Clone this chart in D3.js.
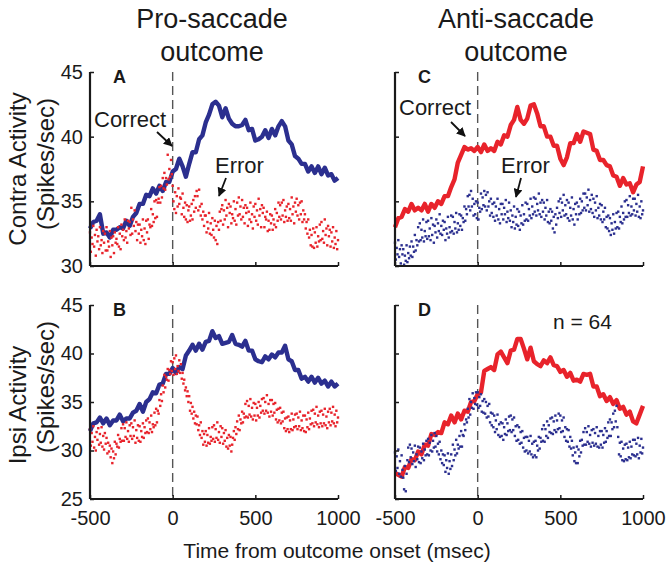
<!DOCTYPE html>
<html><head><meta charset="utf-8">
<script src="https://cdn.jsdelivr.net/npm/d3@7/dist/d3.min.js"></script>
<style>
html,body{margin:0;padding:0;background:#fff;}
svg text{font-family:"Liberation Sans",Arial,Helvetica,sans-serif;fill:#1a1a1a;}
</style></head>
<body>
<svg id="chart" width="672" height="573"></svg>
<script>
// ---------- DATA ----------
const tStart = -500, lineStep = 20, dotStep = 5;
const xTicks = [-500, 0, 500, 1000];
const yTicksTop = [30, 35, 40, 45];
const yTicksBottom = [25, 30, 35, 40, 45];
const columnTitles = [["Pro-saccade", "outcome"], ["Anti-saccade", "outcome"]];
const rowLabels = [["Contra Activity", "(Spikes/sec)"], ["Ipsi Activity", "(Spikes/sec)"]];
const panelLetters = ["A", "C", "B", "D"];

// Panel A: pro-saccade, contra  (solid = correct, blue; dots = error, red)
const proContraCorrect = [32.9,33.4,33.5,34.0,32.5,32.6,32.2,32.8,32.8,33.0, 32.9,33.5,33.1,33.8,34.1,34.8,34.8,35.5,35.4,36.0, 35.6,36.2,35.8,36.5,36.5,37.3,37.5,38.3,37.7,36.9, 37.9,38.8,38.8,39.8,40.1,41.1,41.7,42.5,42.7,42.4, 41.5,42.2,41.4,41.0,40.8,40.8,40.9,41.3,40.5,40.6, 39.7,39.8,40.0,40.5,39.9,40.6,40.1,40.8,41.2,40.8, 39.7,39.4,38.5,38.3,37.9,37.9,37.3,37.7,37.2,37.7, 37.1,37.6,37.0,37.1,36.6,36.8];
const proContraError = [
32.6,31.1,32.2,31.7,33.1,31.5,32.4,30.8,32.8,31.9, 32.3,31.3,33.0,31.6,32.0,31.0,32.7,31.8,32.5,31.2,
33.0,31.2,31.9,31.5,32.7,30.7,32.2,31.6,32.3,31.0, 32.6,31.8,32.1,31.7,33.0,31.5,32.5,31.3,33.2,32.3,
32.8,32.0,33.6,32.2,32.7,31.8,33.5,32.9,33.4,32.4, 34.5,32.5,33.6,33.1,34.3,32.7,33.4,32.0,33.2,32.5,
33.2,31.8,32.8,32.3,33.6,32.0,32.9,31.7,33.5,32.6, 33.6,32.1,33.2,33.0,34.4,33.1,34.0,33.4,35.0,33.7,
35.1,33.8,34.9,35.2,36.1,34.9,36.2,35.3,36.8,36.0, 37.2,35.9,36.8,36.3,38.6,36.7,37.5,36.9,38.2,37.1,
36.2,35.0,34.4,35.7,34.1,35.4,34.6,36.0,34.8,35.3, 35.2,34.0,35.6,34.5,33.8,34.9,33.6,34.7,33.4,34.3,
34.6,33.5,33.9,34.8,33.6,35.1,34.2,35.4,34.5,35.8, 35.4,34.3,35.9,34.6,33.9,34.8,33.6,34.2,33.1,33.9,
33.9,32.6,33.4,32.9,34.1,32.5,33.3,32.4,33.7,32.8, 32.2,33.5,32.0,33.1,31.7,33.4,32.8,34.2,33.5,34.4,
34.7,33.2,34.3,33.6,35.1,33.9,34.5,33.0,34.8,34.1, 34.6,33.3,34.0,33.7,35.0,33.5,34.4,33.2,34.9,33.9,
35.3,34.0,34.6,33.6,35.1,33.8,34.5,33.3,34.7,34.1, 34.5,33.1,34.2,33.6,34.9,33.4,34.0,32.9,34.6,33.8,
34.8,33.5,34.3,33.2,35.2,33.9,34.4,33.0,34.7,34.1, 34.5,33.0,33.8,33.6,34.2,32.7,33.5,32.8,34.0,33.3,
33.9,32.8,33.6,33.2,34.4,33.0,34.1,33.5,34.9,33.8, 34.7,33.6,34.9,33.9,35.1,33.4,34.3,33.8,34.6,33.5,
34.8,33.7,34.4,33.5,35.3,34.0,34.6,33.3,34.9,34.2, 35.2,33.9,34.7,33.6,34.9,34.0,35.0,33.4,34.3,33.6,
34.0,32.9,33.4,32.5,33.6,32.2,32.8,31.6,32.4,31.5, 32.9,31.4,32.6,31.8,33.0,31.5,32.3,31.9,33.2,32.0,
33.4,32.1,32.7,31.8,33.6,32.4,32.9,31.6,33.1,32.3, 32.8,31.5,32.6,31.9,33.0,31.4,32.2,31.7,32.7,31.3,
32.0];

// Panel C: anti-saccade, contra  (solid = correct, red; dots = error, blue)
const antiContraCorrect = [33.0,33.7,33.8,34.4,34.2,34.8,34.3,34.5,34.3,34.8, 34.2,34.8,34.5,35.0,34.8,35.4,35.4,36.1,36.7,38.0, 38.6,39.2,39.0,39.1,38.9,39.2,38.8,39.4,38.9,39.1, 38.9,39.6,39.4,40.1,40.0,40.9,41.3,42.3,41.3,41.0, 41.4,42.4,42.5,41.8,40.8,40.8,40.0,40.0,39.3,39.3, 38.3,37.8,38.4,39.5,39.5,40.2,39.6,40.4,40.3,40.2, 39.0,38.9,38.2,38.2,37.8,37.7,37.0,36.9,36.2,36.8, 36.3,36.4,35.7,36.3,36.5,37.7];
const antiContraError = [
31.8,30.5,31.4,30.9,32.0,30.7,31.3,30.2,31.6,30.9, 31.3,30.1,30.8,30.4,31.6,30.3,31.0,30.6,31.5,30.8,
31.9,30.7,31.5,31.1,32.4,31.2,32.0,31.6,33.0,31.9, 33.3,32.0,32.8,32.2,33.6,31.9,32.7,32.3,33.4,32.1,
33.5,32.3,32.9,32.0,33.7,32.4,33.2,31.8,33.1,32.6, 33.6,32.2,33.3,32.7,34.0,32.5,33.1,32.4,33.5,32.8,
33.4,32.0,32.9,32.5,33.8,32.2,33.0,32.6,33.9,32.7, 33.8,32.5,33.4,32.9,34.1,32.6,33.3,32.8,34.0,33.1,
33.9,32.8,33.7,33.4,34.6,33.5,34.4,34.0,35.4,34.6, 35.5,34.3,35.8,34.6,35.2,33.9,34.8,34.0,35.0,33.7,
34.9,33.6,34.5,34.2,35.6,34.4,35.3,34.7,35.8,34.6, 35.5,34.3,35.7,34.6,35.0,33.9,35.2,34.1,34.8,33.8,
34.9,33.5,34.6,33.9,35.2,33.6,34.4,33.3,34.8,34.0, 34.8,33.6,34.5,34.0,35.1,33.4,34.2,33.7,34.9,33.5,
34.3,33.0,33.9,33.4,34.6,32.9,33.8,33.2,34.4,33.1, 34.2,32.8,33.9,33.3,34.7,33.2,34.0,33.5,34.9,33.6,
34.8,33.5,34.4,33.9,35.2,33.7,34.6,34.0,35.3,34.2, 35.2,33.9,34.8,34.3,35.6,34.0,34.9,33.8,35.1,34.2,
34.9,33.6,34.5,33.9,35.1,33.4,34.2,33.3,34.4,33.5, 34.2,32.9,33.8,32.6,34.0,33.2,34.5,33.7,35.0,34.1,
35.2,33.8,34.9,34.3,35.5,33.9,34.7,34.0,35.1,33.7, 34.9,33.5,34.5,33.9,35.3,33.6,34.4,33.2,34.8,34.0,
34.9,33.6,34.6,34.0,35.2,34.1,35.0,34.3,35.6,34.5, 35.6,34.3,35.3,34.7,35.9,34.2,35.1,34.4,35.5,34.1,
35.2,33.8,34.9,34.3,35.4,33.7,34.5,33.9,34.8,33.6, 34.7,33.4,34.2,33.6,34.5,33.0,33.8,32.9,33.9,32.7,
33.7,32.4,33.3,32.8,34.0,32.5,33.4,32.9,34.1,33.0, 34.2,32.9,33.8,33.4,34.6,33.3,34.1,33.6,35.0,33.8,
35.1,33.8,34.7,34.1,35.4,33.9,34.6,34.0,35.2,34.3, 35.2,33.9,34.8,34.2,35.5,33.8,34.6,33.7,35.0,34.0,
34.3];

// Panel B: pro-saccade, ipsi  (solid = correct, blue; dots = error, red)
const proIpsiCorrect = [32.0,32.8,32.9,33.4,32.8,33.3,32.6,33.1,33.1,33.7, 33.0,33.3,33.3,33.9,34.1,34.8,34.0,35.0,35.3,36.0, 35.9,36.8,36.9,37.9,37.9,38.5,38.0,38.6,38.4,39.8, 40.3,40.9,40.3,41.0,40.4,41.2,41.3,42.3,41.6,41.8, 41.0,41.1,41.2,41.9,41.0,40.9,40.7,41.3,40.3,40.3, 39.4,39.2,39.1,39.7,39.4,39.9,39.6,40.1,40.1,40.8, 39.4,39.2,38.3,38.3,37.4,37.6,37.1,37.6,37.0,37.5, 36.9,37.2,36.6,37.1,36.6,36.9];
const proIpsiError = [
32.2,30.5,31.8,30.9,32.5,30.3,31.4,30.0,31.9,31.1, 32.3,30.6,31.7,30.8,32.4,30.4,31.5,30.1,31.8,30.7,
31.3,29.7,30.8,29.9,30.5,29.3,30.2,28.7,29.9,29.2, 30.9,29.6,30.7,30.4,31.6,30.3,31.2,30.9,32.3,31.0,
32.7,31.0,32.3,31.4,32.9,31.2,32.0,30.9,32.6,31.5, 32.8,31.2,32.4,31.5,33.1,30.8,32.1,31.3,32.6,31.0,
32.5,30.9,32.0,31.4,32.8,31.3,32.4,31.8,33.1,31.9, 33.3,31.8,32.9,32.2,33.6,31.9,32.7,32.4,33.9,32.6,
34.3,32.9,34.1,33.8,35.2,34.6,35.8,35.1,36.7,36.0, 37.8,36.5,37.6,37.3,38.4,37.2,38.3,37.9,39.2,38.2,
39.1,37.8,39.5,38.4,39.8,37.9,38.7,38.2,39.3,38.0, 38.9,37.4,38.0,36.9,37.3,36.2,36.5,35.6,36.1,35.0,
35.6,34.1,34.9,33.8,34.5,33.3,34.0,32.8,33.6,32.7, 33.5,32.1,32.6,31.6,32.9,31.3,32.0,30.6,31.7,30.9,
32.0,30.5,31.6,30.8,32.3,30.7,31.4,31.0,32.4,31.2, 32.6,30.9,32.2,31.3,32.9,31.1,31.9,30.8,32.5,31.4,
32.3,30.7,31.8,31.0,32.1,30.4,31.3,30.2,31.6,30.5, 31.4,29.9,30.6,31.3,32.0,31.1,32.4,31.7,33.0,32.2,
33.6,32.1,33.2,32.8,34.0,32.9,33.8,33.4,34.8,33.5, 35.1,33.4,34.6,33.7,35.3,33.5,34.4,33.2,34.9,33.6,
34.8,33.1,34.4,33.6,35.0,33.4,34.6,33.9,35.3,34.1, 35.4,33.8,35.0,34.1,35.7,33.9,34.8,33.5,35.2,34.0,
35.2,33.6,34.8,33.9,34.9,33.2,34.2,32.9,34.3,33.1, 34.4,32.8,33.9,33.0,34.0,32.3,33.3,32.0,33.4,32.2,
33.5,31.9,33.1,32.2,33.8,32.1,33.2,32.4,33.7,32.5, 33.8,32.2,33.4,32.5,34.0,32.1,33.1,32.3,33.6,32.0,
33.6,31.9,33.2,32.4,33.9,32.2,33.3,32.7,34.1,32.8, 34.2,32.5,33.8,32.9,34.5,32.7,33.6,32.4,34.0,32.8,
34.1,32.5,33.7,32.8,34.3,32.6,33.5,32.3,34.0,32.9, 34.3,32.6,33.9,33.0,34.5,32.8,33.7,32.5,34.1,32.9,
33.4];

// Panel D: anti-saccade, ipsi  (solid = correct, red; dots = error, blue)
const antiIpsiCorrect = [27.7,27.5,27.3,28.3,28.2,29.1,29.0,29.9,29.6,30.6, 30.5,31.7,31.6,31.9,31.8,32.9,32.7,33.6,32.9,33.8, 33.2,34.1,34.0,35.0,35.1,35.8,36.0,38.2,38.4,38.6, 38.3,39.9,40.2,39.6,39.0,40.3,40.4,41.5,41.5,40.5, 39.4,40.6,39.2,38.9,38.7,39.3,39.0,39.6,38.8,38.7, 38.1,38.3,37.6,38.0,37.2,37.3,37.1,37.9,37.8,37.9, 36.6,36.6,35.6,35.8,35.1,35.5,34.8,35.2,34.3,34.5, 33.7,34.0,33.0,32.8,33.7,34.6];
const antiIpsiError = [
29.8,27.9,29.4,28.2,30.1,27.6,28.9,27.3,29.5,28.0, 27.2,26.0,28.4,25.8,27.6,29.0,30.3,28.8,30.6,29.3,
30.2,28.6,29.8,28.9,30.5,28.3,29.6,29.1,30.4,28.8, 30.3,28.7,29.9,29.2,30.7,29.0,30.1,29.5,31.0,29.6,
31.2,29.5,30.8,30.0,31.6,29.9,31.0,30.3,31.8,30.4, 31.5,29.9,30.7,29.6,30.9,29.1,30.0,28.7,29.6,28.5,
29.5,27.8,29.0,28.2,29.7,27.6,28.9,28.1,29.6,28.4, 30.6,29.0,30.1,29.5,31.1,29.7,30.6,30.2,31.5,30.4,
32.0,30.4,31.6,31.5,32.7,32.1,33.2,32.9,34.3,33.4, 35.3,33.7,35.0,34.4,35.9,34.3,35.4,34.8,36.0,34.7,
36.0,34.4,35.5,34.6,35.8,34.0,35.1,33.9,35.3,33.8, 35.0,33.4,34.6,33.5,34.8,32.9,33.9,32.6,33.8,32.4,
33.6,31.9,33.1,32.2,33.7,31.6,32.7,31.4,32.9,31.5, 32.8,31.1,32.4,31.7,33.2,31.6,32.8,32.0,33.5,32.1,
33.6,31.9,33.2,32.1,33.4,31.5,32.5,31.0,32.6,31.1, 32.4,30.7,31.9,30.8,32.0,30.3,31.3,29.9,31.4,30.0,
31.4,29.7,31.0,29.9,31.5,29.6,30.7,29.3,30.9,29.5, 31.0,29.3,30.5,30.0,31.4,30.2,31.3,30.9,32.2,31.0,
32.6,30.9,32.2,31.5,33.0,31.3,32.6,31.9,33.3,31.8, 33.4,31.7,33.0,32.1,33.6,31.9,33.1,32.2,33.8,32.3,
33.6,31.9,33.1,32.0,33.4,31.4,32.4,31.0,32.2,30.9, 32.1,30.4,31.4,30.2,31.0,29.5,30.3,28.9,29.8,28.7,
30.4,28.7,30.1,29.4,31.0,29.8,31.1,30.5,31.9,30.6, 32.3,30.6,31.9,30.9,32.5,30.7,31.6,30.4,32.1,30.8,
32.2,30.5,31.8,30.7,32.4,30.4,31.5,30.3,32.0,30.6, 32.0,30.3,31.6,30.8,32.3,30.9,32.0,31.3,32.9,31.5,
33.2,31.5,32.9,32.2,33.8,32.4,34.1,33.0,34.6,32.4, 31.4,29.6,30.8,29.4,30.9,29.0,30.2,28.9,30.6,29.1,
30.7,29.0,30.3,29.3,30.9,29.2,30.4,29.6,31.1,29.5, 31.1,29.4,30.7,29.6,31.3,29.2,30.5,29.8,31.2,29.7,
30.3];

// ---------- DRAW ----------
const BLUE = "#2b2f8f", RED = "#e8232b";
const svg = d3.select("#chart");

const colX = [[90, 338], [395, 643]];
const rowY = [[266, 72], [499, 305]];
const rowDomain = [[30, 45], [25, 45]];
const rowTicks = [yTicksTop, yTicksBottom];

const panels = [
  {row: 0, col: 0, line: proContraCorrect, lineColor: BLUE, dots: proContraError, dotColor: RED, letter: panelLetters[0]},
  {row: 0, col: 1, line: antiContraCorrect, lineColor: RED, dots: antiContraError, dotColor: BLUE, letter: panelLetters[1]},
  {row: 1, col: 0, line: proIpsiCorrect, lineColor: BLUE, dots: proIpsiError, dotColor: RED, letter: panelLetters[2]},
  {row: 1, col: 1, line: antiIpsiCorrect, lineColor: RED, dots: antiIpsiError, dotColor: BLUE, letter: panelLetters[3]}
];

panels.forEach(p => {
  const x = d3.scaleLinear().domain([-500, 1000]).range(colX[p.col]);
  const y = d3.scaleLinear().domain(rowDomain[p.row]).range(rowY[p.row]);
  const g = svg.append("g");

  g.append("line")
    .attr("x1", x(0)).attr("x2", x(0))
    .attr("y1", y.range()[1]).attr("y2", y.range()[0])
    .attr("stroke", "#555").attr("stroke-width", 1.4)
    .attr("stroke-dasharray", "9,5");

  const lineGen = d3.line()
    .x((d, i) => x(tStart + i * lineStep))
    .y(d => y(d));
  g.append("path").datum(p.line)
    .attr("d", lineGen)
    .attr("fill", "none")
    .attr("stroke", p.lineColor)
    .attr("stroke-width", 4.4)
    .attr("stroke-linejoin", "round");

  g.append("g").selectAll("rect").data(p.dots).join("rect")
    .attr("x", (d, i) => x(tStart + i * dotStep) - 1.2)
    .attr("y", d => y(d) - 1.2)
    .attr("width", 2.4).attr("height", 2.4)
    .attr("fill", p.dotColor);

  const fmt = d => String(d);
  const yAxis = d3.axisLeft(y).tickValues(rowTicks[p.row]).tickSize(-4).tickPadding(7)
    .tickFormat(p.col === 1 ? "" : fmt);
  const ya = g.append("g").attr("transform", `translate(${x.range()[0]},0)`).call(yAxis);
  const xAxis = d3.axisBottom(x).tickValues(xTicks).tickSize(-4).tickPadding(12)
    .tickFormat(p.row === 0 ? "" : fmt);
  const xa = g.append("g").attr("transform", `translate(0,${y.range()[0]})`).call(xAxis);
  [ya, xa].forEach(a => {
    a.select(".domain").attr("stroke", "#1a1a1a").attr("stroke-width", 2.2);
    a.selectAll(".tick line").attr("stroke", "#1a1a1a").attr("stroke-width", 1.5);
    a.selectAll(".tick text").attr("font-size", 20).attr("fill", "#1a1a1a")
      .attr("font-family", "\"Liberation Sans\",Arial,sans-serif");
  });
  ya.select(".domain").attr("d", `M0,${y.range()[0]}V${y.range()[1]}`);
  xa.select(".domain").attr("d", `M${x.range()[0]},0H${x.range()[1]}`);

  g.append("text").attr("x", x.range()[0] + 23).attr("y", y.range()[1] + 11)
    .attr("font-size", 18).attr("font-weight", "bold").text(p.letter);
});

const titleX = [212, 516];
columnTitles.forEach((lines, c) => {
  svg.append("text").attr("x", titleX[c]).attr("y", 28).attr("text-anchor", "middle")
    .attr("font-size", 27).text(lines[0]);
  svg.append("text").attr("x", titleX[c]).attr("y", 61).attr("text-anchor", "middle")
    .attr("font-size", 27).text(lines[1]);
});

const rowCenters = [[169, 164], [405, 387]];
rowLabels.forEach((lines, r) => {
  svg.append("text").attr("transform", `translate(26,${rowCenters[r][0]}) rotate(-90)`)
    .attr("text-anchor", "middle").attr("font-size", 24).text(lines[0]);
  svg.append("text").attr("transform", `translate(54,${rowCenters[r][1]}) rotate(-90)`)
    .attr("text-anchor", "middle").attr("font-size", 24).text(lines[1]);
});

svg.append("text").attr("x", 337).attr("y", 558).attr("text-anchor", "middle")
  .attr("font-size", 21).text("Time from outcome onset (msec)");

svg.append("defs").append("marker").attr("id", "ah").attr("viewBox", "0 0 10 10")
  .attr("refX", 9).attr("refY", 5).attr("markerWidth", 9).attr("markerHeight", 9)
  .attr("markerUnits", "userSpaceOnUse").attr("orient", "auto")
  .append("path").attr("d", "M0,0L10,5L0,10z").attr("fill", "#111");

const annotations = [
  {text: "Correct", x: 94, y: 127, ax1: 157, ay1: 132, ax2: 172, ay2: 146},
  {text: "Error", x: 215, y: 173, ax1: 226, ay1: 178, ax2: 219, ay2: 196},
  {text: "Correct", x: 399, y: 115, ax1: 451, ay1: 122, ax2: 465, ay2: 136},
  {text: "Error", x: 501, y: 173, ax1: 521, ay1: 178, ax2: 516, ay2: 197}
];
annotations.forEach(a => {
  svg.append("text").attr("x", a.x).attr("y", a.y).attr("font-size", 22).text(a.text);
  svg.append("line").attr("x1", a.ax1).attr("y1", a.ay1).attr("x2", a.ax2).attr("y2", a.ay2)
    .attr("stroke", "#111").attr("stroke-width", 1.8).attr("marker-end", "url(#ah)");
});
svg.append("text").attr("x", 553).attr("y", 329).attr("font-size", 21).text("n = 64");
</script>
</body></html>
